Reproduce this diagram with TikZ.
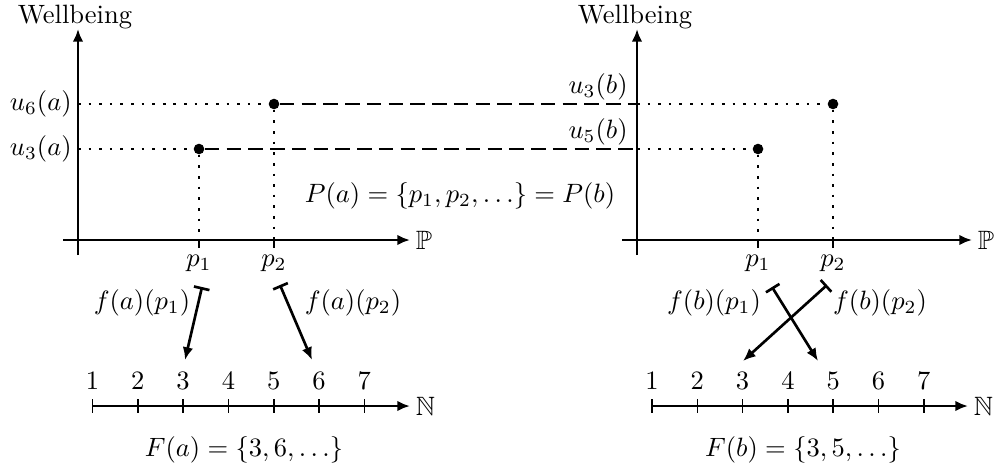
\documentclass[tikz,border=0pt]{standalone}
\usepackage{amssymb}
\usetikzlibrary{arrows.meta}
\begin{document}
\begin{tikzpicture}[x=0.377pt,y=-0.377pt,
  axis/.style={line width=1pt,-{Latex[length=4.8pt,width=4pt]}},
  mapto/.style={line width=1pt,{Bar[width=6pt]}-{Latex[length=4.8pt,width=4pt]}},
  guide/.style={line width=1pt,dash pattern=on 1pt off 3pt},
  level/.style={line width=1pt,dash pattern=on 5.5pt off 2.7pt},
  dot/.style={circle,fill,inner sep=0pt,minimum size=4pt},
  tickmark/.style={line width=0.6pt},
  ulbl/.style={anchor=east,inner sep=2.2pt},
  setlbl/.style={anchor=west,inner sep=2pt}]
\useasboundingbox (0,0) rectangle (995,472);

% ---------- left panel ----------
\coordinate (Lyb) at (78,255);
\coordinate (Lyt) at (78,29);
\coordinate (Lxl) at (63,240);
\coordinate (Lxr) at (410,240);
\draw[axis] (Lyb) -- (Lyt);
\draw[axis] (Lxl) -- (Lxr);
\node (LW) at (75,17) {Wellbeing};
\node[setlbl] (LP) at (Lxr) {$\mathbb{P}$};

\coordinate (Lp1) at (199,240);
\coordinate (Lp2) at (274,240);
\coordinate (Lp1b) at (199,248);
\coordinate (Lp2b) at (274,248);
\coordinate (Lu3) at (78,149);
\coordinate (Lu6) at (78,104);
\node[dot] (La3) at (199,149) {};
\node[dot] (La6) at (274,104) {};
\draw[guide] (Lu3) -- (La3);
\draw[guide] (Lu6) -- (La6);
\draw[guide] (La3) -- (Lp1);
\draw[guide] (La6) -- (Lp2);
\draw[tickmark] (Lp1) -- (Lp1b);
\draw[tickmark] (Lp2) -- (Lp2b);
\node[ulbl] (Lu6l) at (Lu6) {$u_6(a)$};
\node[ulbl] (Lu3l) at (Lu3) {$u_3(a)$};
\node[anchor=north] (Lp1l) at (199,246) {$p_1$};
\node[anchor=north] (Lp2l) at (274,246) {$p_2$};

% ---------- right panel ----------
\coordinate (Ryb) at (637,255);
\coordinate (Ryt) at (637,29);
\coordinate (Rxl) at (622,240);
\coordinate (Rxr) at (972,240);
\draw[axis] (Ryb) -- (Ryt);
\draw[axis] (Rxl) -- (Rxr);
\node (RW) at (635,17) {Wellbeing};
\node[setlbl] (RP) at (Rxr) {$\mathbb{P}$};

\coordinate (Rp1) at (758,240);
\coordinate (Rp2) at (833,240);
\coordinate (Rp1b) at (758,248);
\coordinate (Rp2b) at (833,248);
\coordinate (Ru3) at (637,104);
\coordinate (Ru5) at (637,149);
\node[dot] (Rb5) at (758,149) {};
\node[dot] (Rb3) at (833,104) {};
\draw[guide] (Ru3) -- (Rb3);
\draw[guide] (Ru5) -- (Rb5);
\draw[guide] (Rb5) -- (Rp1);
\draw[guide] (Rb3) -- (Rp2);
\draw[tickmark] (Rp1) -- (Rp1b);
\draw[tickmark] (Rp2) -- (Rp2b);
\node[anchor=east] (Ru3l) at (637,87) {$u_3(b)$};
\node[anchor=east] (Ru5l) at (637,132) {$u_5(b)$};
\node[anchor=north] (Rp1l) at (758,246) {$p_1$};
\node[anchor=north] (Rp2l) at (833,246) {$p_2$};

% ---------- dashed levels ----------
\draw[level] (La3) -- (Ru5);
\draw[level] (La6) -- (Ru3);

\node (PP) at (460,196) {$P(a)=\{p_1,p_2,\dots\}=P(b)$};

% ---------- number lines ----------
\foreach \k in {1,...,7}{
  \coordinate (LN\k) at ({92.5+45.3*(\k-1)},406);
  \coordinate (LT\k) at ({92.5+45.3*(\k-1)},399);
  \coordinate (LB\k) at ({92.5+45.3*(\k-1)},413);
  \draw[tickmark] (LT\k) -- (LB\k);
  \node[anchor=south] (LD\k) at (LT\k) {$\k$};
  \coordinate (RN\k) at ({652+45.3*(\k-1)},406);
  \coordinate (RT\k) at ({652+45.3*(\k-1)},399);
  \coordinate (RB\k) at ({652+45.3*(\k-1)},413);
  \draw[tickmark] (RT\k) -- (RB\k);
  \node[anchor=south] (RD\k) at (RT\k) {$\k$};
}
\coordinate (LNe) at (410,406);
\coordinate (RNe) at (968,406);
\draw[axis] (LN1) -- (LNe);
\draw[axis] (RN1) -- (RNe);
\node[setlbl] (LNN) at (LNe) {$\mathbb{N}$};
\node[setlbl] (RNN) at (RNe) {$\mathbb{N}$};

\node (LF) at (244,450) {$F(a)=\{3,6,\dots\}$};
\node (RF) at (803,450) {$F(b)=\{3,5,\dots\}$};

% ---------- maps ----------
\coordinate (Lf1s) at (202,287);
\coordinate (Lf1e) at (185,360);
\coordinate (Lf2s) at (280,285);
\coordinate (Lf2e) at (312,360);
\draw[mapto] (Lf1s) -- (Lf1e);
\draw[mapto] (Lf2s) -- (Lf2e);
\node (Lf1l) at (142,303) {$f(a)(p_1)$};
\node (Lf2l) at (353,303) {$f(a)(p_2)$};

\coordinate (Rf1s) at (772,287);
\coordinate (Rf1e) at (818,361);
\coordinate (Rf2s) at (827,285);
\coordinate (Rf2e) at (743,361);
\draw[mapto] (Rf1s) -- (Rf1e);
\draw[mapto] (Rf2s) -- (Rf2e);
\node (Rf1l) at (714,303) {$f(b)(p_1)$};
\node (Rf2l) at (880,303) {$f(b)(p_2)$};
\end{tikzpicture}
\end{document}
